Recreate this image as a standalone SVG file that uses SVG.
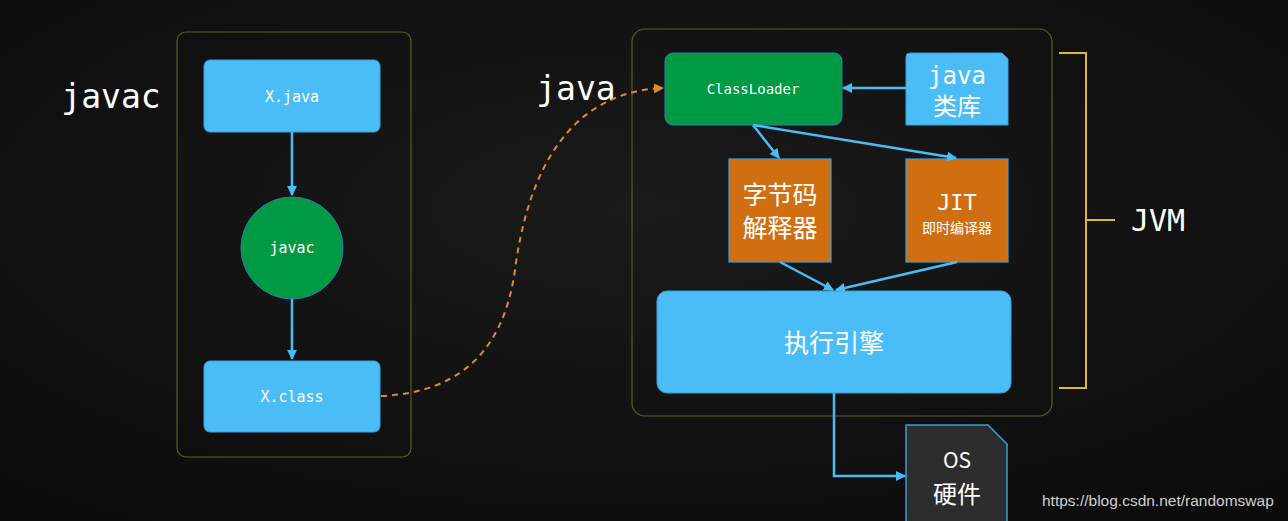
<svg xmlns="http://www.w3.org/2000/svg" width="1288" height="521" viewBox="0 0 1288 521">
<defs>
<radialGradient id="bg" cx="50%" cy="40%" r="75%">
<stop offset="0" stop-color="#1a1a1a"/>
<stop offset="1" stop-color="#0b0b0b"/>
</radialGradient>
<marker id="ab" viewBox="0 0 10 10" refX="9" refY="5" markerWidth="4" markerHeight="4" orient="auto" markerUnits="strokeWidth">
<path d="M0,0 L10,5 L0,10 z" fill="#4bbdf5"/>
</marker>
<marker id="ao" viewBox="0 0 10 10" refX="9" refY="5" markerWidth="5" markerHeight="5" orient="auto" markerUnits="strokeWidth">
<path d="M0,0 L10,5 L0,10 z" fill="#e08a2c"/>
</marker>
<style>
.cont{fill:none;stroke:#5c5a2c;stroke-width:1.2}
.blue{fill:#4abdf7;stroke:#3aa0d8;stroke-width:1}
.green{fill:#009a44;stroke:#2f7fb0;stroke-width:1}
.orange{fill:#cf6f12;stroke:#3a9fd8;stroke-width:1.2}
.dark{fill:#2d2d2d;stroke:#3a9fd8;stroke-width:1.5}
.mono{font-family:"DejaVu Sans Mono","Liberation Mono",monospace;fill:#ffffff;text-anchor:middle}
.cjk{font-family:"Noto Sans CJK SC","Noto Sans",sans-serif;fill:#ffffff;text-anchor:middle}
.conn{fill:none;stroke:#4bbdf5;stroke-width:2.5;marker-end:url(#ab)}
.bracket{fill:none;stroke:#e2b532;stroke-width:2}
</style>
</defs>
<rect width="1288" height="521" fill="url(#bg)"/>

<g id="javac-container"><rect class="cont" x="177" y="32" width="234" height="425" rx="9"/></g>
<g id="jvm-container"><rect class="cont" x="632" y="29" width="420" height="387" rx="13"/></g>

<g id="label-javac"><text class="mono" x="111" y="108" font-size="33">javac</text></g>
<g id="label-java"><text class="mono" x="576" y="100" font-size="33">java</text></g>

<g id="x-java"><rect class="blue" x="204" y="60" width="176" height="72" rx="6"/><text class="mono" x="292" y="102" font-size="15">X.java</text></g>
<g id="javac-node"><circle class="green" cx="292" cy="248" r="51"/><text class="mono" x="292" y="253" font-size="15">javac</text></g>
<g id="x-class"><rect class="blue" x="204" y="361" width="176" height="71" rx="6"/><text class="mono" x="292" y="402" font-size="15">X.class</text></g>

<g id="classloader"><rect class="green" x="665" y="53" width="177" height="72" rx="8"/><text class="mono" x="753" y="94" font-size="14">ClassLoader</text></g>
<g id="java-lib"><path class="blue" d="M910,53 L1002,53 L1008,59 L1008,125 L906,125 L906,57 Q906,53 910,53 z"/><text class="mono" x="957" y="84" font-size="24">java</text><text class="cjk" x="957" y="115" font-size="24">类库</text></g>
<g id="interpreter"><rect class="orange" x="729" y="159" width="102" height="103"/><text class="cjk" x="780" y="204" font-size="25">字节码</text><text class="cjk" x="780" y="237" font-size="25">解释器</text></g>
<g id="jit"><rect class="orange" x="906" y="159" width="102" height="103"/><text class="mono" x="957" y="210" font-size="22">JIT</text><text class="cjk" x="957" y="233" font-size="14">即时编译器</text></g>
<g id="engine"><rect class="blue" x="657" y="291" width="354" height="102" rx="10"/><text class="cjk" x="834" y="352" font-size="25">执行引擎</text></g>
<g id="os"><path class="dark" d="M906,425 L988,425 L1007,444 L1007,530 L906,530 z"/><text class="cjk" x="957" y="468" font-size="21">OS</text><text class="cjk" x="957" y="503" font-size="24">硬件</text></g>

<g id="jvm-bracket"><path class="bracket" d="M1059,53 L1086,53 L1086,388 L1059,388 M1086,220 L1115,220"/><text class="mono" x="1158" y="231" font-size="30">JVM</text></g>

<g id="connectors">
<path class="conn" d="M292,132 L292,195"/>
<path class="conn" d="M292,299 L292,359"/>
<path d="M381,396 C470,392 505,340 515,270 C528,170 570,92 663,88" fill="none" stroke="#e08a2c" stroke-width="2" stroke-dasharray="6,5" marker-end="url(#ao)"/>
<path class="conn" d="M906,88 L843,88"/>
<path class="conn" d="M753,125 L779,158"/>
<path class="conn" d="M753,125 L956,158"/>
<path class="conn" d="M780,262 L833,290"/>
<path class="conn" d="M957,262 L836,290"/>
<path class="conn" d="M834,393 L834,476 L905,476"/>
</g>

<text x="1042" y="506" font-family="Liberation Sans, Arial, sans-serif" font-size="15.5" fill="#d0d0d0">https://blog.csdn.net/randomswap</text>
</svg>
